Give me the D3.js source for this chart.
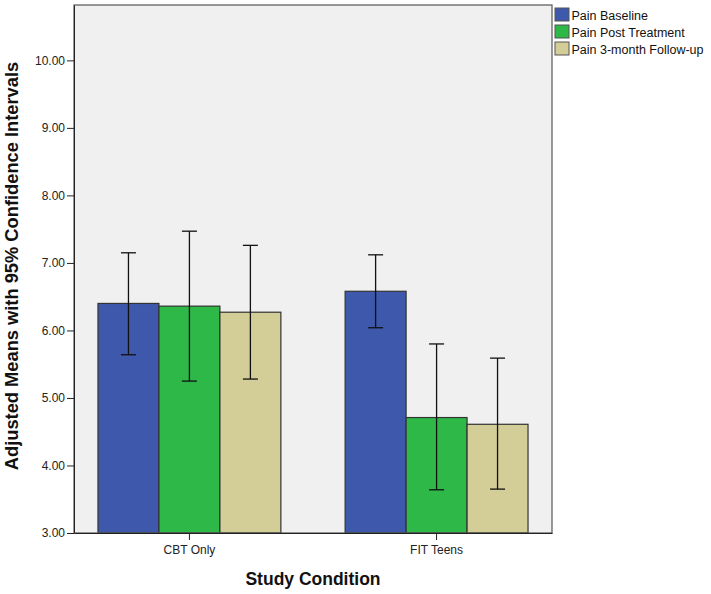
<!DOCTYPE html>
<html lang="en">
<head>
<meta charset="utf-8">
<title>Adjusted Means by Study Condition</title>
<script src="https://d3js.org/d3.v7.min.js"></script>
<style>
  body { margin: 0; background: #fff; }
  svg { display: block; font-family: "Liberation Sans", Arial, sans-serif; }
  .tick text { font-size: 12px; fill: #222; }
  .axis path, .axis line { stroke: #222; }
</style>
</head>
<body>
<svg width="711" height="594"></svg>
<script>
// data
var conditions = ["CBT Only", "FIT Teens"];
var seriesNames = ["Pain Baseline", "Pain Post Treatment", "Pain 3-month Follow-up"];
var means = [[6.40, 6.36, 6.27], [6.58, 4.71, 4.61]];
var ciLow = [[5.64, 5.25, 5.28], [6.04, 3.64, 3.65]];
var ciHigh = [[7.15, 7.47, 7.26], [7.12, 5.80, 5.59]];
var yTicks = [3, 4, 5, 6, 7, 8, 9, 10];
var colors = ["#3e58ac", "#2eb848", "#d3ce97"];

var svg = d3.select("svg"),
    margin = {top: 5, right: 159, bottom: 61, left: 74},
    width = +svg.attr("width") - margin.left - margin.right,
    height = +svg.attr("height") - margin.top - margin.bottom;

var x0 = d3.scaleBand().domain(conditions).range([0, width])
    .paddingInner(0.26).paddingOuter(0.097);
var x1 = d3.scaleBand().domain(seriesNames).range([0, x0.bandwidth()]);
var y = d3.scaleLinear().domain([3, 10.82]).range([height, 0]);

var g = svg.append("g")
    .attr("transform", "translate(" + margin.left + "," + margin.top + ")");

g.append("rect")
    .attr("width", width).attr("height", height)
    .attr("fill", "#f0f0f0");

var rows = [];
conditions.forEach(function(c, i) {
  seriesNames.forEach(function(s, j) {
    rows.push({cond: c, series: s, k: j, mean: means[i][j], lo: ciLow[i][j], hi: ciHigh[i][j]});
  });
});

g.selectAll(".bar")
  .data(rows)
  .enter().append("rect")
    .attr("class", "bar")
    .attr("x", function(d) { return x0(d.cond) + x1(d.series); })
    .attr("y", function(d) { return y(d.mean); })
    .attr("width", x1.bandwidth())
    .attr("height", function(d) { return height - y(d.mean); })
    .attr("fill", function(d) { return colors[d.k]; })
    .attr("stroke", "#333")
    .attr("stroke-width", 1.2);

// error bars
var eb = g.selectAll(".err")
  .data(rows)
  .enter().append("g")
    .attr("class", "err")
    .attr("stroke", "#111")
    .attr("stroke-width", 1.3);

function cx(d) { return x0(d.cond) + x1(d.series) + x1.bandwidth() / 2; }

eb.append("line")
    .attr("x1", cx).attr("x2", cx)
    .attr("y1", function(d) { return y(d.lo); })
    .attr("y2", function(d) { return y(d.hi); });
eb.append("line")
    .attr("x1", function(d) { return cx(d) - 7.5; })
    .attr("x2", function(d) { return cx(d) + 7.5; })
    .attr("y1", function(d) { return y(d.hi); })
    .attr("y2", function(d) { return y(d.hi); });
eb.append("line")
    .attr("x1", function(d) { return cx(d) - 7.5; })
    .attr("x2", function(d) { return cx(d) + 7.5; })
    .attr("y1", function(d) { return y(d.lo); })
    .attr("y2", function(d) { return y(d.lo); });

// frame
g.append("rect")
    .attr("width", width).attr("height", height)
    .attr("fill", "none")
    .attr("stroke", "#555")
    .attr("stroke-width", 1.2);

g.append("g")
    .attr("class", "axis")
    .call(d3.axisLeft(y).tickValues(yTicks).tickSize(7).tickSizeOuter(0)
      .tickFormat(d3.format(".2f")))
    .call(function(a) { a.selectAll("text").attr("dx", "1px"); });

g.append("g")
    .attr("class", "axis")
    .attr("transform", "translate(0," + height + ")")
    .call(d3.axisBottom(x0).tickSize(7).tickSizeOuter(0))
    .call(function(a) { a.selectAll("text").attr("dy", "0.95em"); });

g.append("text")
    .attr("x", width / 2)
    .attr("y", height + 52)
    .attr("text-anchor", "middle")
    .attr("font-size", "17.5px")
    .attr("font-weight", "bold")
    .attr("fill", "#111")
    .text("Study Condition");

g.append("text")
    .attr("transform", "translate(" + (-56) + "," + (height / 2 - 3) + ") rotate(-90)")
    .attr("text-anchor", "middle")
    .attr("font-size", "18.3px")
    .attr("font-weight", "bold")
    .attr("fill", "#111")
    .text("Adjusted Means with 95% Confidence Intervals");

// legend
var legend = svg.append("g")
    .attr("transform", "translate(555,8)");
var item = legend.selectAll(".item")
  .data(seriesNames)
  .enter().append("g")
    .attr("transform", function(d, i) { return "translate(0," + (i * 17) + ")"; });
item.append("rect")
    .attr("width", 14).attr("height", 13)
    .attr("fill", function(d, i) { return colors[i]; })
    .attr("stroke", "#555");
item.append("text")
    .attr("x", 16.5).attr("y", 11.5)
    .attr("font-size", "12.5px")
    .attr("fill", "#111")
    .text(function(d) { return d; });
</script>
</body>
</html>
